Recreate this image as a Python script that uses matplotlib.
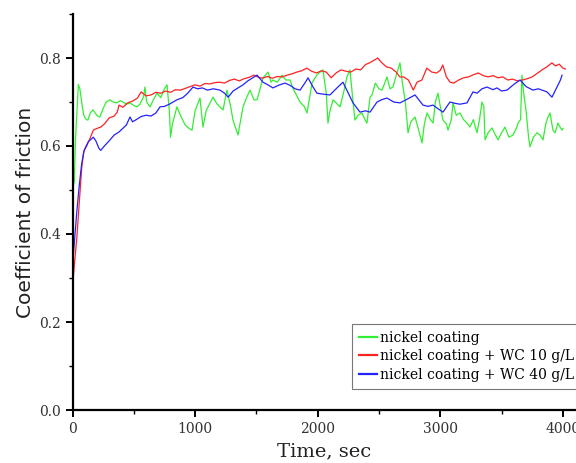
import matplotlib
matplotlib.use("Agg")
import matplotlib.pyplot as plt
from matplotlib.ticker import MultipleLocator

# ---- data ----
red_t = [0, 15, 35, 55, 75, 90, 110, 140, 170, 200, 230, 260, 300, 340, 365, 380, 410, 450, 490, 530,
         560, 600, 640, 680, 720, 760, 800, 840, 880, 920, 960, 1000, 1040, 1080, 1120, 1160, 1200, 1240,
         1280, 1320, 1360, 1400, 1440, 1480, 1510, 1550, 1590, 1630, 1670, 1710, 1750, 1790, 1830, 1870,
         1910, 1950, 1990, 2030, 2070, 2110, 2150, 2190, 2230, 2270, 2310, 2350, 2390, 2430, 2460, 2490,
         2520, 2560, 2600, 2640, 2670, 2700, 2740, 2780, 2810, 2850, 2890, 2930, 2970, 3000, 3020, 3050,
         3080, 3110, 3150, 3190, 3230, 3270, 3310, 3350, 3390, 3430, 3470, 3510, 3550, 3590, 3630, 3670,
         3710, 3750, 3790, 3830, 3870, 3910, 3940, 3970, 4000, 4020]
red_v = [0.28, 0.33, 0.39, 0.47, 0.55, 0.585, 0.60, 0.615, 0.636, 0.64, 0.643, 0.65, 0.664, 0.668, 0.677,
         0.693, 0.688, 0.698, 0.702, 0.709, 0.723, 0.714, 0.716, 0.722, 0.72, 0.725, 0.722, 0.728, 0.727,
         0.731, 0.735, 0.739, 0.736, 0.742, 0.741, 0.744, 0.745, 0.743, 0.749, 0.752, 0.748, 0.753, 0.756,
         0.761, 0.757, 0.754, 0.758, 0.754, 0.758, 0.757, 0.761, 0.764, 0.768, 0.771, 0.777, 0.770, 0.766,
         0.771, 0.768, 0.755, 0.766, 0.773, 0.770, 0.768, 0.775, 0.773, 0.785, 0.790, 0.795, 0.800, 0.790,
         0.780, 0.777, 0.768, 0.757, 0.757, 0.750, 0.727, 0.745, 0.750, 0.777, 0.768, 0.766, 0.772, 0.784,
         0.757, 0.745, 0.743, 0.750, 0.755, 0.757, 0.762, 0.766, 0.760, 0.757, 0.760, 0.755, 0.757, 0.750,
         0.752, 0.748, 0.750, 0.753, 0.757, 0.765, 0.773, 0.780, 0.789, 0.782, 0.786, 0.777, 0.775]

blue_t = [0, 15, 35, 55, 75, 95, 115, 130, 150, 170, 190, 215, 230, 260, 300, 340, 380, 410, 440, 469,
          490, 520, 560, 600, 640, 680, 714, 750, 790, 852, 900, 940, 983, 1020, 1060, 1100, 1150, 1203,
          1240, 1270, 1310, 1350, 1391, 1430, 1470, 1505, 1554, 1600, 1635, 1680, 1733, 1774, 1815, 1856,
          1900, 1921, 1960, 1994, 2040, 2100, 2150, 2206, 2250, 2288, 2345, 2390, 2427, 2484, 2520, 2565,
          2620, 2671, 2720, 2794, 2859, 2900, 2941, 2980, 3022, 3079, 3120, 3160, 3218, 3267, 3300, 3340,
          3381, 3430, 3462, 3500, 3544, 3600, 3650, 3700, 3756, 3800, 3870, 3911, 3952, 3980, 3993]
blue_v = [0.33, 0.38, 0.45, 0.51, 0.56, 0.59, 0.60, 0.61, 0.615, 0.62, 0.612, 0.595, 0.59, 0.60, 0.612,
          0.625, 0.632, 0.64, 0.648, 0.666, 0.655, 0.66, 0.667, 0.67, 0.668, 0.675, 0.689, 0.69, 0.695,
          0.705, 0.71, 0.72, 0.734, 0.73, 0.732, 0.727, 0.73, 0.727, 0.72, 0.711, 0.725, 0.732, 0.739,
          0.748, 0.755, 0.761, 0.745, 0.738, 0.732, 0.738, 0.743, 0.738, 0.73, 0.727, 0.745, 0.755, 0.735,
          0.72, 0.718, 0.716, 0.73, 0.745, 0.72, 0.698, 0.677, 0.68, 0.677, 0.70, 0.705, 0.709, 0.70, 0.698,
          0.705, 0.716, 0.693, 0.69, 0.693, 0.685, 0.677, 0.70, 0.697, 0.695, 0.698, 0.723, 0.72, 0.73,
          0.734, 0.728, 0.732, 0.725, 0.727, 0.74, 0.75, 0.735, 0.727, 0.73, 0.723, 0.711, 0.734, 0.75, 0.761]

green_t = [0, 15, 25, 40, 48, 60, 75, 90, 102, 115, 126, 145, 167, 184, 205, 224, 250, 275, 306, 330,
           360, 390, 412, 440, 470, 500, 526, 550, 580, 591, 605, 632, 660, 689, 720, 750, 771, 790, 800,
           815, 852, 880, 918, 950, 975, 1000, 1040, 1064, 1090, 1146, 1180, 1228, 1260, 1290, 1309, 1350,
           1391, 1420, 1448, 1480, 1505, 1530, 1554, 1595, 1620, 1635, 1670, 1709, 1740, 1774, 1800, 1856,
           1890, 1913, 1940, 1954, 1990, 2010, 2043, 2070, 2084, 2100, 2125, 2160, 2182, 2210, 2239, 2263,
           2285, 2304, 2330, 2361, 2386, 2402, 2427, 2443, 2470, 2500, 2524, 2550, 2565, 2590, 2614, 2640,
           2671, 2690, 2715, 2737, 2760, 2794, 2820, 2851, 2870, 2892, 2920, 2941, 2960, 2981, 3000, 3022,
           3050, 3063, 3090, 3104, 3130, 3161, 3190, 3218, 3242, 3270, 3299, 3320, 3340, 3355, 3365, 3390,
           3422, 3450, 3471, 3500, 3528, 3560, 3593, 3620, 3634, 3655, 3666, 3680, 3700, 3720, 3732, 3760,
           3789, 3813, 3838, 3860, 3879, 3895, 3919, 3936, 3960, 3977, 3993, 4001]
green_v = [0.50, 0.52, 0.62, 0.70, 0.74, 0.73, 0.70, 0.672, 0.664, 0.66, 0.659, 0.675, 0.682, 0.675, 0.668,
           0.666, 0.685, 0.70, 0.705, 0.70, 0.698, 0.703, 0.70, 0.695, 0.698, 0.692, 0.689, 0.695, 0.712,
           0.734, 0.70, 0.689, 0.705, 0.72, 0.71, 0.73, 0.739, 0.68, 0.62, 0.65, 0.689, 0.67, 0.648, 0.64,
           0.636, 0.68, 0.709, 0.643, 0.68, 0.711, 0.695, 0.682, 0.727, 0.69, 0.659, 0.625, 0.689, 0.71,
           0.727, 0.705, 0.705, 0.73, 0.755, 0.768, 0.745, 0.75, 0.745, 0.761, 0.75, 0.75, 0.73, 0.70, 0.69,
           0.675, 0.72, 0.743, 0.76, 0.766, 0.773, 0.72, 0.652, 0.68, 0.705, 0.695, 0.689, 0.72, 0.757,
           0.773, 0.71, 0.659, 0.67, 0.675, 0.66, 0.652, 0.711, 0.716, 0.743, 0.73, 0.727, 0.745, 0.757,
           0.73, 0.734, 0.76, 0.789, 0.745, 0.70, 0.63, 0.655, 0.666, 0.64, 0.607, 0.65, 0.675, 0.66, 0.652,
           0.70, 0.72, 0.69, 0.659, 0.65, 0.636, 0.66, 0.698, 0.67, 0.675, 0.66, 0.652, 0.643, 0.66, 0.63,
           0.66, 0.70, 0.69, 0.614, 0.63, 0.641, 0.625, 0.614, 0.63, 0.643, 0.62, 0.625, 0.64, 0.652, 0.66,
           0.761, 0.72, 0.68, 0.62, 0.598, 0.62, 0.63, 0.625, 0.614, 0.65, 0.666, 0.675, 0.636, 0.63, 0.652,
           0.643, 0.636, 0.64]

labels = ["nickel coating", "nickel coating + WC 10 g/L", "nickel coating + WC 40 g/L"]
colors = ["#33ee33", "#ff2222", "#2222ff"]

serif = ["DejaVu Serif"]

fig = plt.figure(figsize=(5.76, 4.63), dpi=100)
ax = fig.add_axes([72.5 / 576, 53 / 463, 1 - 72.5 / 576, 396 / 463])

ax.plot(green_t, green_v, color=colors[0], lw=0.9, label=labels[0])
ax.plot(red_t, red_v, color=colors[1], lw=0.9, label=labels[1])
ax.plot(blue_t, blue_v, color=colors[2], lw=0.9, label=labels[2])

ax.set_xlim(0, 4107)
ax.set_ylim(0, 0.9)
ax.xaxis.set_major_locator(MultipleLocator(1000))
ax.xaxis.set_minor_locator(MultipleLocator(500))
ax.yaxis.set_major_locator(MultipleLocator(0.2))
ax.yaxis.set_minor_locator(MultipleLocator(0.1))
ax.yaxis.set_major_formatter(plt.FuncFormatter(lambda v, p: f"{v:.1f}"))

for s in ["top", "right"]:
    ax.spines[s].set_visible(False)
for s in ["left", "bottom"]:
    ax.spines[s].set_linewidth(1.6)

ax.tick_params(which="major", direction="out", length=5, width=1.4, labelsize=10, colors="black")
ax.tick_params(which="minor", direction="out", length=3, width=1.0)
for lab in ax.get_xticklabels() + ax.get_yticklabels():
    lab.set_family(serif)
    lab.set_color("#333333")

ax.set_xlabel("Time, sec", family=serif, fontsize=14, labelpad=5, color="#222222")
ax.set_ylabel("Coefficient of friction", family=["DejaVu Sans"], fontsize=14.5, labelpad=3,
              color="#222222")

leg = ax.legend(loc="upper left", bbox_to_anchor=((352 - 72.5) / (576 - 72.5), (410 - 324) / 396),
                prop={"family": serif, "size": 10}, frameon=True, fancybox=False,
                handlelength=1.3, handletextpad=0.25, borderpad=0.5, labelspacing=0.31,
                borderaxespad=0)
leg.get_frame().set_edgecolor("#555555")
leg.get_frame().set_linewidth(0.8)
for line in leg.get_lines():
    line.set_linewidth(1.6)

fig.savefig("out.png", dpi=100)
